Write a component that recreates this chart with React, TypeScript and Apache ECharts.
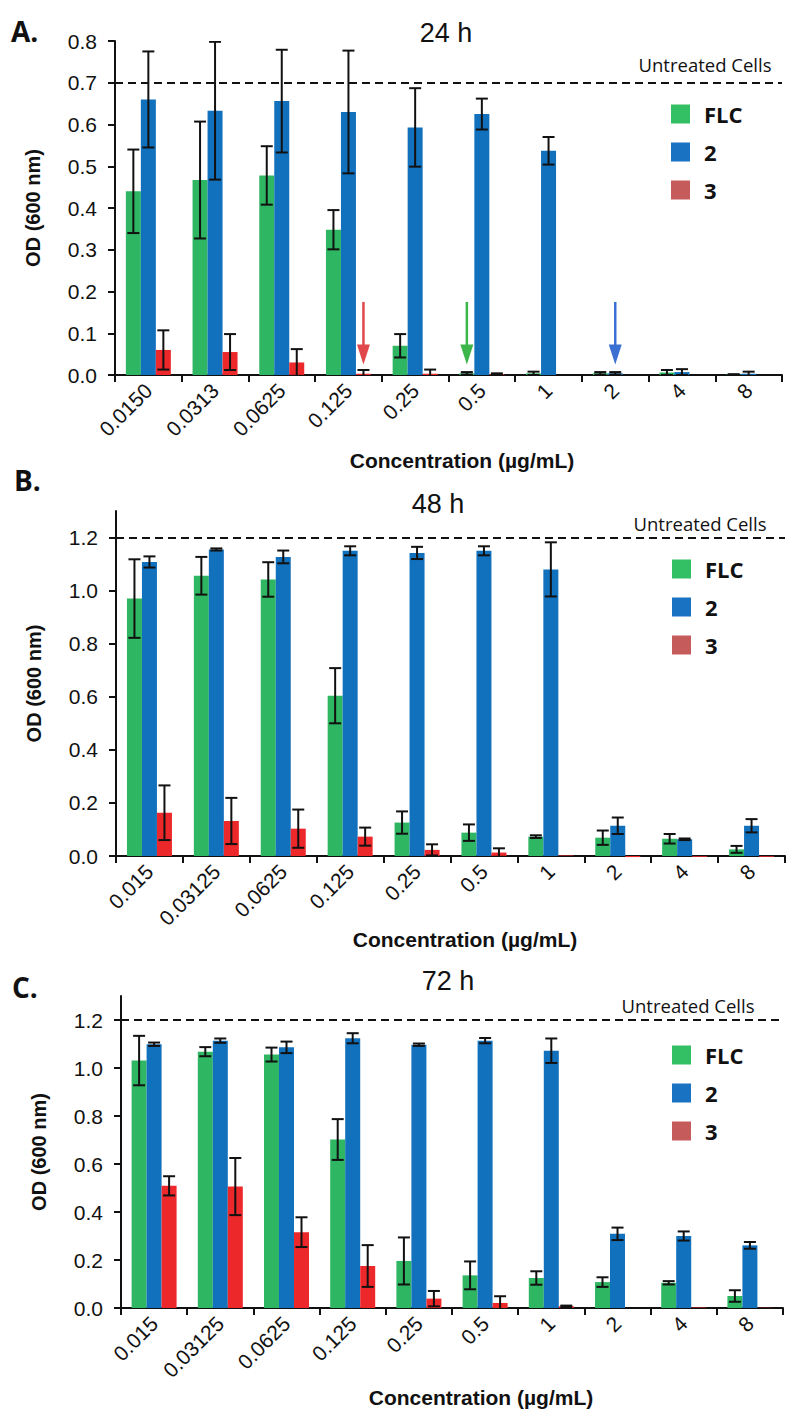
import React, { useEffect, useRef } from 'react';
import * as echarts from 'echarts';

// ---------- data ----------
const categoriesA = ['0.0150', '0.0313', '0.0625', '0.125', '0.25', '0.5', '1', '2', '4', '8'];
const categoriesBC = ['0.015', '0.03125', '0.0625', '0.125', '0.25', '0.5', '1', '2', '4', '8'];
const seriesNames = ['FLC', '2', '3'];

// 24 h
const flcA = [0.44, 0.467, 0.478, 0.348, 0.07, 0.004, 0.004, 0.004, 0.006, 0.001];
const flcAErr = [0.1, 0.14, 0.07, 0.047, 0.028, 0.003, 0.004, 0.003, 0.006, 0.001];
const cmp2A = [0.66, 0.633, 0.656, 0.63, 0.593, 0.625, 0.537, 0.004, 0.007, 0.003];
const cmp2AErr = [0.115, 0.165, 0.123, 0.147, 0.094, 0.037, 0.033, 0.003, 0.007, 0.005];
const cmp3A = [0.06, 0.055, 0.03, 0.003, 0.003, 0.002, 0, 0, 0, 0];
const cmp3AErr = [0.047, 0.043, 0.032, 0.009, 0.01, 0.002, 0, 0, 0, 0];

// 48 h
const flcB = [0.97, 1.056, 1.042, 0.604, 0.126, 0.088, 0.073, 0.069, 0.065, 0.025];
const flcBErr = [0.148, 0.071, 0.065, 0.104, 0.042, 0.031, 0.005, 0.027, 0.018, 0.013];
const cmp2B = [1.108, 1.155, 1.127, 1.15, 1.142, 1.15, 1.08, 0.114, 0.063, 0.114];
const cmp2BErr = [0.021, 0.004, 0.024, 0.017, 0.023, 0.017, 0.102, 0.031, 0.003, 0.025];
const cmp3B = [0.163, 0.132, 0.103, 0.073, 0.023, 0.013, 0.002, -0.004, -0.003, -0.003];
const cmp3BErr = [0.103, 0.087, 0.072, 0.034, 0.021, 0.016, 0, 0, 0, 0];

// 72 h
const flcC = [1.031, 1.068, 1.056, 0.702, 0.196, 0.136, 0.125, 0.108, 0.105, 0.05];
const flcCErr = [0.103, 0.019, 0.029, 0.085, 0.098, 0.058, 0.028, 0.02, 0.007, 0.024];
const cmp2C = [1.099, 1.114, 1.086, 1.124, 1.097, 1.114, 1.072, 0.309, 0.3, 0.261];
const cmp2CErr = [0.007, 0.009, 0.024, 0.021, 0.005, 0.011, 0.051, 0.026, 0.019, 0.014];
const cmp3C = [0.509, 0.506, 0.316, 0.175, 0.039, 0.021, 0.007, 0, 0.002, 0.001];
const cmp3CErr = [0.04, 0.119, 0.062, 0.087, 0.032, 0.028, 0.003, 0, 0, 0];

const untreatedLevels = [0.7, 1.2, 1.2];
const panelTitles = ['24 h', '48 h', '72 h'];
const panelLetters = ['A.', 'B.', 'C.'];
const yMaxes = [0.8, 1.3, 1.3];
const yIntervals = [0.1, 0.2, 0.2];
const yTickValuesA = [0, 0.1, 0.2, 0.3, 0.4, 0.5, 0.6, 0.7, 0.8];
const yTickValuesBC = [0, 0.2, 0.4, 0.6, 0.8, 1.0, 1.2];

// arrows in panel A (MIC markers)
const arrowCategories = ['0.125', '0.5', '2'];
const arrowSeries = ['3', 'FLC', '2'];
const arrowTop = 0.175;
const arrowTip = 0.025;

// ---------- styles / layout ----------
const BAR_W = 15;
const CAP_W = 12;
const barColors = ['#2eb662', '#1271bd', '#ed282b'];
const legendColors = ['#33bf63', '#1a73c2', '#c65b5b'];
const arrowColors = ['#e0484b', '#3cb54a', '#3b6fd1'];
const INK = '#111111';
const SANS = '"Liberation Sans", Arial, Helvetica, sans-serif';
const CALIBRI = '"Open Sans", "Liberation Sans", sans-serif';

const grids = [
  { left: 115, top: 41, width: 667, height: 334 },
  { left: 116, top: 511, width: 669, height: 345 },
  { left: 121, top: 996, width: 662, height: 312 },
];
const legendPos = [
  { left: 666, top: 98 },
  { left: 667, top: 553 },
  { left: 667, top: 1039 },
];
const titlePos = [
  { x: 446, y: 33 },
  { x: 438, y: 504 },
  { x: 448, y: 981 },
];
const untreatedPos = [
  { x: 705, y: 64 },
  { x: 700, y: 523 },
  { x: 688, y: 1005 },
];
const letterPos = [
  { x: 11, y: 31 },
  { x: 14, y: 480 },
  { x: 12, y: 987 },
];
const xNamePos = [
  { x: 462, y: 460 },
  { x: 465, y: 939 },
  { x: 481, y: 1397 },
];

const panels = [
  { cats: categoriesA, values: [flcA, cmp2A, cmp3A], errs: [flcAErr, cmp2AErr, cmp3AErr], ticks: yTickValuesA },
  { cats: categoriesBC, values: [flcB, cmp2B, cmp3B], errs: [flcBErr, cmp2BErr, cmp3BErr], ticks: yTickValuesBC },
  { cats: categoriesBC, values: [flcC, cmp2C, cmp3C], errs: [flcCErr, cmp2CErr, cmp3CErr], ticks: yTickValuesBC },
];

function errRender(params: any, api: any) {
  const cat = api.value(0);
  const s = api.value(1);
  const v = api.value(2);
  const e = api.value(3);
  if (!(e > 0)) return { type: 'group', children: [] };
  const base = api.coord([cat, v]);
  const x = base[0] + (s - 1) * BAR_W;
  const yTop = api.coord([cat, v + e])[1];
  const yBot = api.coord([cat, v - e])[1];
  const h = CAP_W / 2;
  const style = { stroke: INK, lineWidth: 2 };
  return {
    type: 'group',
    children: [
      { type: 'line', shape: { x1: x, y1: yTop, x2: x, y2: yBot }, style },
      { type: 'line', shape: { x1: x - h, y1: yTop, x2: x + h, y2: yTop }, style },
      { type: 'line', shape: { x1: x - h, y1: yBot, x2: x + h, y2: yBot }, style },
    ],
  };
}

function arrowRender(params: any, api: any) {
  const cat = api.value(0);
  const s = api.value(1);
  const top = api.value(2);
  const tip = api.value(3);
  const color = arrowColors[params.dataIndex];
  const p1 = api.coord([cat, top]);
  const p2 = api.coord([cat, tip]);
  const x = p1[0] + (s - 1) * BAR_W;
  const headH = 20;
  const headW = 13;
  return {
    type: 'group',
    children: [
      { type: 'line', shape: { x1: x, y1: p1[1], x2: x, y2: p2[1] - headH + 2 }, style: { stroke: color, lineWidth: 2.5 } },
      {
        type: 'polygon',
        shape: { points: [[x - headW / 2, p2[1] - headH], [x + headW / 2, p2[1] - headH], [x, p2[1]]] },
        style: { fill: color },
      },
    ],
  };
}

function buildOption() {
  const xAxis: any[] = [];
  const yAxis: any[] = [];
  const series: any[] = [];
  const legend: any[] = [];
  const graphic: any[] = [];

  panels.forEach((p, pi) => {
    xAxis.push({
      type: 'category',
      gridIndex: pi,
      data: p.cats,
      boundaryGap: true,
      axisLine: { lineStyle: { color: INK, width: 2 } },
      axisTick: { show: true, interval: 0, length: 7, lineStyle: { color: INK, width: 2 } },
      axisLabel: {
        interval: 0,
        rotate: 45,
        margin: 12,
        color: INK,
        fontSize: 21,
        fontFamily: SANS,
      },
      splitLine: { show: false },
    });
    yAxis.push({
      type: 'value',
      gridIndex: pi,
      min: 0,
      max: yMaxes[pi],
      interval: yIntervals[pi],
      name: 'OD (600 nm)',
      nameLocation: 'middle',
      nameGap: 72,
      nameTextStyle: { fontFamily: SANS, fontWeight: 'bold', fontSize: 20, color: INK },
      axisLine: { show: true, lineStyle: { color: INK, width: 2 } },
      axisTick: { show: true, length: 7, lineStyle: { color: INK, width: 2 }, customValues: p.ticks },
      axisLabel: {
        color: INK,
        fontSize: 21,
        fontFamily: SANS,
        margin: 18,
        customValues: p.ticks,
        formatter: (v: number) => v.toFixed(1),
      },
      splitLine: { show: false },
    });

    seriesNames.forEach((name, si) => {
      const s: any = {
        type: 'bar',
        name,
        xAxisIndex: pi,
        yAxisIndex: pi,
        data: p.values[si],
        barWidth: BAR_W,
        barGap: '0%',
        clip: false,
        itemStyle: { color: barColors[si] },
        emphasis: { disabled: true },
      };
      if (si === 0) {
        s.markLine = {
          silent: true,
          symbol: 'none',
          label: { show: false },
          lineStyle: { color: INK, width: 2, type: [8, 5] },
          data: [{ yAxis: untreatedLevels[pi] }],
        };
      }
      series.push(s);
    });

    const errData: number[][] = [];
    seriesNames.forEach((_, si) => {
      p.values[si].forEach((v, ci) => {
        errData.push([ci, si, v, p.errs[si][ci]]);
      });
    });
    series.push({
      type: 'custom',
      name: 'err' + pi,
      xAxisIndex: pi,
      yAxisIndex: pi,
      clip: true,
      silent: true,
      encode: { x: 0, y: 2 },
      renderItem: errRender,
      data: errData,
      z: 5,
    });

    legend.push({
      orient: 'vertical',
      left: legendPos[pi].left,
      top: legendPos[pi].top,
      icon: 'rect',
      itemWidth: 19,
      itemHeight: 19,
      itemGap: 16,
      selectedMode: false,
      data: seriesNames.map((n, i) => ({ name: n, itemStyle: { color: legendColors[i] } })),
      textStyle: {
        fontFamily: CALIBRI,
        fontWeight: 'bold',
        fontSize: 22,
        color: INK,
        padding: [0, 0, 0, 9],
      },
    });

    graphic.push(
      {
        type: 'text',
        x: titlePos[pi].x,
        y: titlePos[pi].y,
        style: {
          text: panelTitles[pi],
          fontFamily: SANS,
          fontSize: 27,
          fill: INK,
          textAlign: 'center',
          textVerticalAlign: 'middle',
        },
      },
      {
        type: 'text',
        x: untreatedPos[pi].x,
        y: untreatedPos[pi].y,
        style: {
          text: 'Untreated Cells',
          fontFamily: CALIBRI,
          fontSize: 18.5,
          fill: INK,
          textAlign: 'center',
          textVerticalAlign: 'middle',
        },
      },
      {
        type: 'text',
        x: letterPos[pi].x,
        y: letterPos[pi].y,
        style: {
          text: panelLetters[pi],
          fontFamily: CALIBRI,
          fontWeight: 'bold',
          fontSize: 28,
          fill: INK,
          textAlign: 'left',
          textVerticalAlign: 'middle',
        },
      },
      {
        type: 'text',
        x: xNamePos[pi].x,
        y: xNamePos[pi].y,
        style: {
          text: 'Concentration (µg/mL)',
          fontFamily: SANS,
          fontWeight: 'bold',
          fontSize: 21,
          fill: INK,
          textAlign: 'center',
          textVerticalAlign: 'middle',
        },
      }
    );
  });

  // arrows on panel A
  const arrowData = arrowCategories.map((c, i) => [
    categoriesA.indexOf(c),
    seriesNames.indexOf(arrowSeries[i]),
    arrowTop,
    arrowTip,
  ]);
  series.push({
    type: 'custom',
    name: 'arrows',
    xAxisIndex: 0,
    yAxisIndex: 0,
    silent: true,
    encode: { x: 0, y: 2 },
    renderItem: arrowRender,
    data: arrowData,
    z: 6,
  });

  return {
    animation: false,
    backgroundColor: '#ffffff',
    grid: grids.map((g) => ({ ...g, containLabel: false })),
    xAxis,
    yAxis,
    legend,
    series,
    graphic,
  };
}

export default function App() {
  const ref = useRef<HTMLDivElement>(null);
  useEffect(() => {
    if (!ref.current) return;
    const chart = echarts.init(ref.current, undefined, { renderer: 'svg' });
    chart.setOption(buildOption() as any);
    return () => chart.dispose();
  }, []);
  return (
    <div
      ref={ref}
      style={{ position: 'absolute', left: 0, top: 0, width: 800, height: 1425, background: '#fff' }}
    />
  );
}
